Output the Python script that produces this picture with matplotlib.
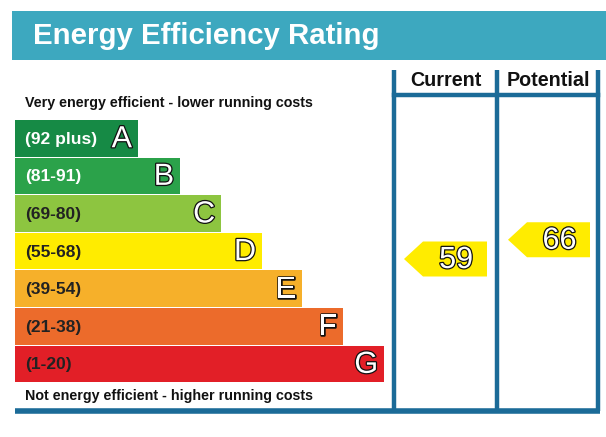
import matplotlib.pyplot as plt
import matplotlib.patheffects as pe
from matplotlib.patches import Rectangle, Polygon

bands = ['A', 'B', 'C', 'D', 'E', 'F', 'G']
ranges = ['(92 plus)', '(81-91)', '(69-80)', '(55-68)', '(39-54)', '(21-38)', '(1-20)']
bar_colors = ['#168a45', '#2ba24a', '#8dc540', '#ffec00', '#f6b02a', '#ec6b2b', '#e21f27']
bar_ends = [138, 180, 221, 262, 302, 343, 384]
range_text_colors = ['white', 'white', '#222222', '#222222', '#222222', '#222222', '#222222']

current_score = 59
potential_score = 66

HEAD = '#3da8bf'
LINE = '#1b6b98'
FONT = 'Liberation Sans'

fig = plt.figure(figsize=(6.06, 4.37), dpi=100)
ax = fig.add_axes([0, 0, 1, 1])
ax.set_xlim(0, 606)
ax.set_ylim(437, 0)
ax.axis('off')

# title band
ax.add_patch(Rectangle((12, 11), 600, 49, color=HEAD, lw=0))
ax.text(33, 36, 'Energy Efficiency Rating', color='white', fontsize=21.2,
        fontweight='bold', family=FONT, va='center')

# frame for the columns
lw = 3.2
for x in [394, 497, 598]:
    ax.plot([x, x], [70, 411], color=LINE, lw=lw, solid_capstyle='butt')
ax.plot([394, 598], [95, 95], color=LINE, lw=lw)
ax.plot([15, 600], [411, 411], color=LINE, lw=lw + 0.8, solid_capstyle='butt')
ax.text(446, 80, 'Current', fontsize=14.2, fontweight='bold', family=FONT,
        ha='center', va='center', color='#111111')
ax.text(548, 80, 'Potential', fontsize=14.2, fontweight='bold', family=FONT,
        ha='center', va='center', color='#111111')

ax.text(25, 103, 'Very energy efficient - lower running costs', fontsize=10.3,
        fontweight='bold', family=FONT, va='center', color='#111111')
ax.text(25, 396, 'Not energy efficient - higher running costs', fontsize=10.3,
        fontweight='bold', family=FONT, va='center', color='#111111')

# rating bars
outline = [pe.withStroke(linewidth=1.8, foreground='#111111')]
top = 120
h = 36.5
step = 37.6
for i, b in enumerate(bands):
    y0 = top + i * step
    ax.add_patch(Rectangle((15, y0), bar_ends[i] - 15, h, color=bar_colors[i], lw=0))
    ax.text(25, y0 + h / 2 + 1, ranges[i], fontsize=12.5, fontweight='bold',
            family=FONT, va='center', color=range_text_colors[i])
    ax.text(bar_ends[i] - 6, y0 + h / 2 + 1, b, fontsize=22, family=FONT,
            ha='right', va='center', color='white', path_effects=outline)


def score_y(score):
    return 259 - (score - 59) * 2.75


def draw_arrow(x0, x1, score):
    yc = score_y(score)
    hh = 17.5
    pts = [(x0, yc), (x0 + 19, yc - hh), (x1, yc - hh), (x1, yc + hh), (x0 + 19, yc + hh)]
    ax.add_patch(Polygon(pts, closed=True, color='#ffec00', lw=0))
    ax.text((x0 + 19 + x1) / 2 + 1, yc + 1, str(score), fontsize=22, family=FONT,
            ha='center', va='center', color='white', path_effects=outline)


draw_arrow(404, 487, current_score)
draw_arrow(508, 590, potential_score)

fig.savefig('out.png', dpi=100)
